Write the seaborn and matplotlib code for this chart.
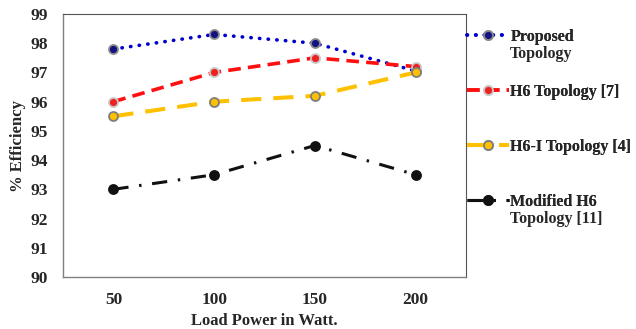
import matplotlib
matplotlib.use("Agg")
import matplotlib.pyplot as plt
import seaborn as sns
import pandas as pd

loads = ["50", "100", "150", "200"]
proposed = [97.8, 98.3, 98.0, 97.05]
h6 = [96.0, 97.0, 97.5, 97.2]
h6_i = [95.5, 96.0, 96.2, 97.0]
modified_h6 = [93.0, 93.5, 94.5, 93.5]
series_names = ["Proposed Topology", "H6 Topology [7]", "H6-I Topology [4]", "Modified H6 Topology [11]"]
legend_first = ["Proposed", "H6 Topology [7]", "H6-I Topology [4]", "Modified H6"]
legend_second = ["Topology", None, None, "Topology [11]"]
y_ticks = [90, 91, 92, 93, 94, 95, 96, 97, 98, 99]

sns.set_style("white")
plt.rcParams["font.family"] = ["Liberation Serif", "DejaVu Serif"]
plt.rcParams["font.weight"] = "bold"

rows = []
for name, vals in zip(series_names, [proposed, h6, h6_i, modified_h6]):
    for x, v in zip(loads, vals):
        rows.append({"Load": x, "Eff": v, "Series": name})
df = pd.DataFrame(rows)

W, H = 636, 329
fig, ax = plt.subplots(figsize=(W / 100, H / 100), dpi=100)
fig.subplots_adjust(left=63 / W, right=466 / W, top=1 - 14 / H, bottom=1 - 277 / H)

styles = {
    series_names[0]: dict(color="#0000CC", ls=(0, (0.1, 2.3)), lw=2.6, mfc="#141480", mec="#8c8c8c", cap="round"),
    series_names[1]: dict(color="#FF1010", ls=(0, (3.5, 2)), lw=2.6, mfc="#ee2020", mec="#c8c8c8", cap="butt"),
    series_names[2]: dict(color="#FFC000", ls=(0, (5, 3)), lw=2.9, mfc="#FFC000", mec="#7f7f7f", cap="butt"),
    series_names[3]: dict(color="#111111", ls=(0, (5, 3.5, 0.8, 3.5)), lw=2.2, mfc="#111111", mec="#111111", cap="butt"),
}

handles = []
for name in series_names:
    st = styles[name]
    sub = df[df["Series"] == name]
    sns.lineplot(data=sub, x="Load", y="Eff", ax=ax, color=st["color"], linestyle=st["ls"],
                 linewidth=st["lw"], marker="o", markersize=6.5, markerfacecolor=st["mfc"],
                 markeredgecolor=st["mec"], markeredgewidth=1.3, sort=False, legend=False,
                 dash_capstyle=st["cap"])
    handles.append(ax.lines[-1])

ax.set_xlim(-0.5, 3.5)
ax.set_ylim(90, 99)
ax.set_yticks(y_ticks)
ax.tick_params(axis="both", labelsize=12.5, length=0)
ax.tick_params(axis="y", pad=11)
ax.tick_params(axis="x", pad=11)
for lab in ax.get_xticklabels() + ax.get_yticklabels():
    lab.set_fontweight("bold")
ax.set_xlabel("Load Power in Watt.", fontsize=12, fontweight="bold")
ax.set_ylabel("% Efficiency", fontsize=12, fontweight="bold")
ax.xaxis.set_label_coords(0.5, (277 - 313) / 263)
ax.yaxis.set_label_coords((26 - 63) / 403, 0.5)

for s in ["left", "bottom"]:
    ax.spines[s].set_color("#7f7f7f")
    ax.spines[s].set_linewidth(1.0)
for s in ["top", "right"]:
    ax.spines[s].set_color("#555555")
    ax.spines[s].set_linewidth(0.8)
    ax.spines[s].set_linestyle((0, (1, 1)))

# legend entries, placed one by one beside the plot
first_rows_y = [37, 92, 147, 202]
for h, lab1, lab2, yy in zip(handles, legend_first, legend_second, first_rows_y):
    lg = fig.legend([h], [lab1], loc="center left", bbox_to_anchor=(467 / W, 1 - yy / H),
                    bbox_transform=fig.transFigure, frameon=False, handlelength=2.6,
                    handletextpad=0.12, borderpad=0.0, borderaxespad=0.0,
                    prop={"weight": "bold", "size": 11.5})
    fig.add_artist(lg)
    if lab2:
        fig.text(510 / W, 1 - (yy + 17) / H, lab2, fontsize=11.5, fontweight="bold",
                 ha="left", va="center")

fig.savefig("out.png", dpi=100)
